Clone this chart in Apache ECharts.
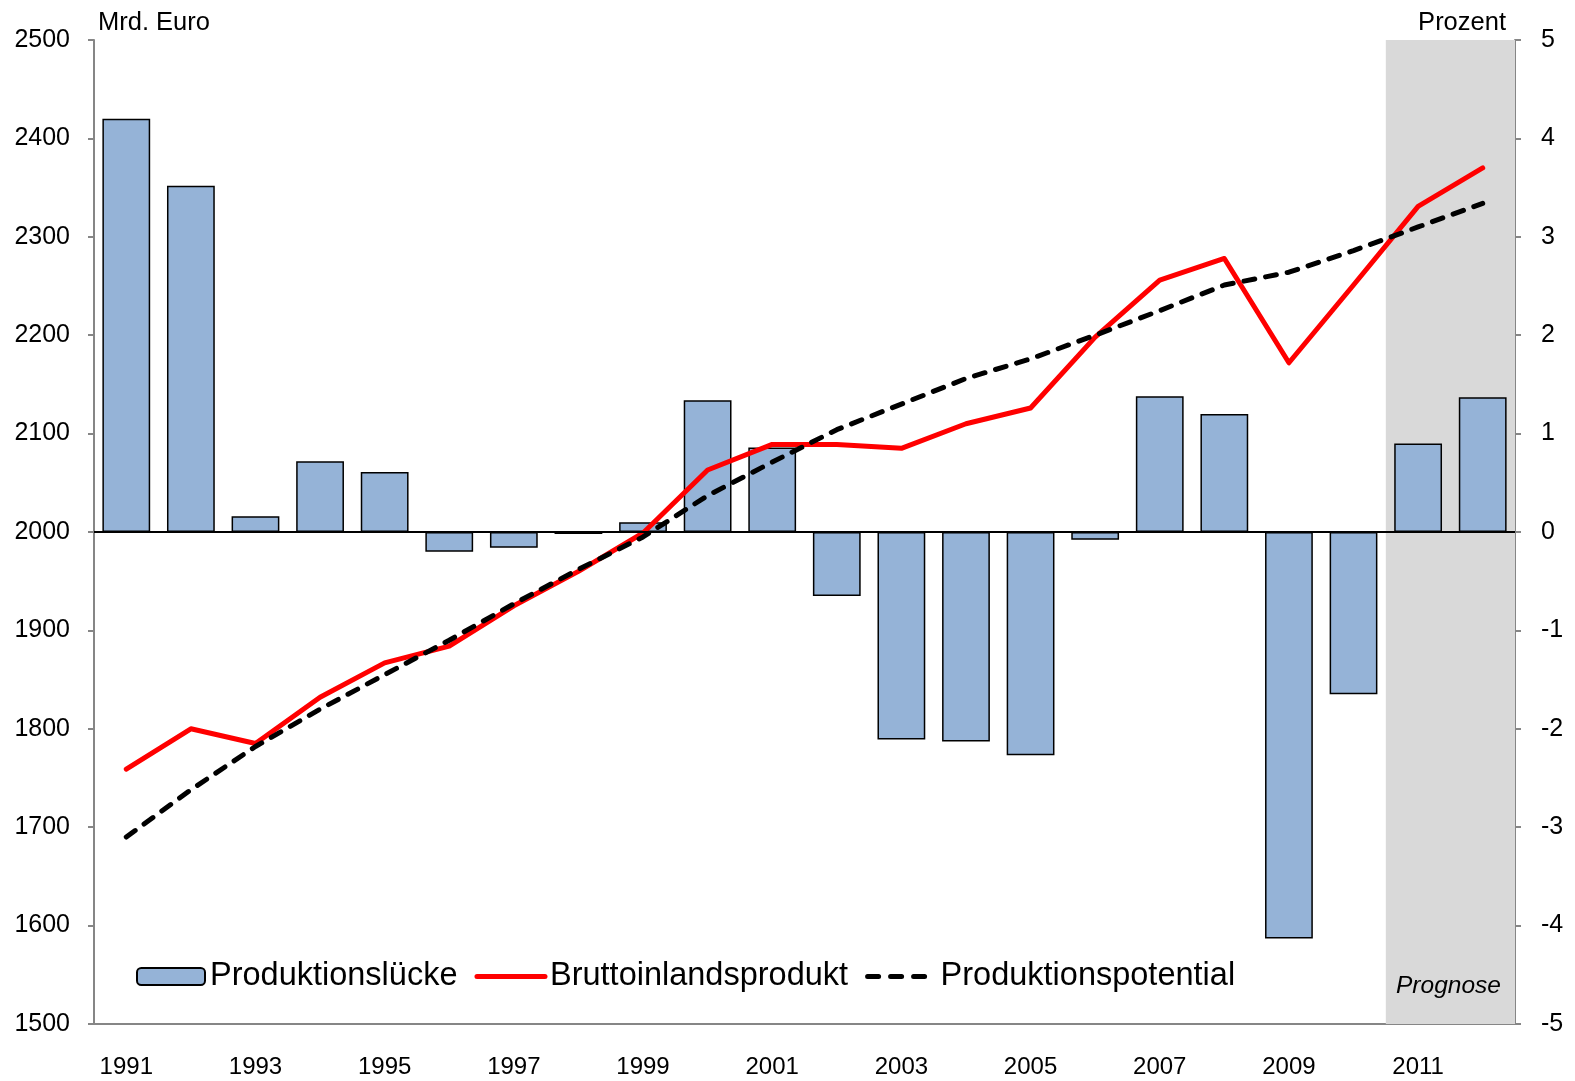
<!DOCTYPE html>
<html>
<head>
<meta charset="utf-8">
<script src="https://cdn.jsdelivr.net/npm/echarts@6/dist/echarts.min.js"></script>
<style>
html, body { margin: 0; padding: 0; background: #fff; }
#main { width: 1575px; height: 1081px; }
</style>
</head>
<body>
<div id="main"></div>
<script>
// Jahre
var years = ['1991','1992','1993','1994','1995','1996','1997','1998','1999','2000','2001',
	'2002','2003','2004','2005','2006','2007','2008','2009','2010','2011','2012'];
// Produktionslücke (Prozent, rechte Achse)
var luecke = [4.20, 3.52, 0.16, 0.72, 0.61, -0.20, -0.16, -0.02, 0.10, 1.34, 0.86,
	-0.65, -2.11, -2.13, -2.27, -0.08, 1.38, 1.20, -4.13, -1.65, 0.90, 1.37];
// Bruttoinlandsprodukt (Mrd. Euro)
var bip = [1759, 1800, 1785, 1832, 1867, 1884, 1925, 1960, 1999, 2063, 2089,
	2089, 2085, 2110, 2126, 2198, 2256, 2278, 2172, 2251, 2331, 2370];
// Produktionspotential (Mrd. Euro)
var potential = [1690, 1738, 1782, 1820, 1855, 1890, 1927, 1962, 1995, 2037, 2071,
	2104, 2130, 2156, 2176, 2200, 2225, 2251, 2264, 2286, 2310, 2334];
// Zweijahres-Abschnitte fuer den Prognose-Hintergrund (2011/12 = Prognose)
var perioden = ['1991/92','1993/94','1995/96','1997/98','1999/00','2001/02',
	'2003/04','2005/06','2007/08','2009/10','2011/12'];
var prognose = ['2011/12'];
var prognoseOben = perioden.map(function (p) { return prognose.indexOf(p) >= 0 ? 5 : null; });
var prognoseUnten = perioden.map(function (p) { return prognose.indexOf(p) >= 0 ? -5 : null; });

var font = 'Liberation Sans, Arial, sans-serif';
var axisGray = '#868686';
var grau = '#d9d9d9';

var myChart = echarts.init(document.getElementById('main'));
var option = {
	animation: false,
	textStyle: { fontFamily: font },
	grid: { left: 94, right: 60, top: 40, bottom: 57 },
	legend: {
		data: [
			{ name: 'Produktionslücke' },
			{
				name: 'Bruttoinlandsprodukt',
				itemStyle: { color: 'rgba(0,0,0,0)', opacity: 0, borderWidth: 0 },
				lineStyle: { width: 5, color: '#ff0000', cap: 'round' }
			},
			{
				name: 'Produktionspotential',
				itemStyle: { color: 'rgba(0,0,0,0)', opacity: 0, borderWidth: 0 },
				lineStyle: { width: 5, color: '#000', type: [11, 12], cap: 'round' }
			}
		],
		left: 131,
		top: 955,
		itemWidth: 68,
		itemHeight: 17,
		itemGap: 17,
		textStyle: { fontSize: 32.5, color: '#000', fontFamily: font }
	},
	graphic: [
		{ type: 'text', left: 98, top: 10, z: 100, style: { text: 'Mrd. Euro', font: '25.5px ' + font, fill: '#000' } },
		{ type: 'text', right: 69, top: 10, z: 100, style: { text: 'Prozent', font: '25.5px ' + font, fill: '#000' } },
		{ type: 'text', left: 1396, top: 974, z: 100, style: { text: 'Prognose', font: 'italic 24.5px ' + font, fill: '#000' } }
	],
	xAxis: [
		{
			type: 'category',
			data: years,
			position: 'bottom',
			axisLine: { onZero: false, lineStyle: { color: axisGray, width: 2 } },
			axisTick: { interval: 3, length: 6, lineStyle: { color: axisGray, width: 2 } },
			axisLabel: { interval: 1, fontSize: 24, color: '#000', margin: 31 },
			splitLine: { show: false }
		},
		{
			// Hilfsachse fuer den Prognose-Hintergrund
			type: 'category',
			data: perioden,
			show: false
		}
	],
	yAxis: [
		{
			type: 'value',
			min: 1500, max: 2500, interval: 100,
			axisLine: { show: true, lineStyle: { color: axisGray, width: 2 } },
			axisTick: { show: true, length: 6, lineStyle: { color: axisGray, width: 2 } },
			axisLabel: { fontSize: 25, color: '#000', margin: 24, formatter: function (v) { return String(v); } },
			splitLine: { show: false }
		},
		{
			type: 'value',
			min: -5, max: 5, interval: 1,
			position: 'right',
			axisLine: { show: true, lineStyle: { color: axisGray, width: 2 } },
			axisTick: { show: true, length: 6, lineStyle: { color: axisGray, width: 2 } },
			axisLabel: { fontSize: 25, color: '#000', margin: 26, align: 'left' },
			splitLine: { show: false }
		}
	],
	series: [
		{
			name: 'prognose',
			type: 'bar',
			xAxisIndex: 1,
			yAxisIndex: 1,
			stack: 'prog',
			barCategoryGap: '0%',
			silent: true,
			z: 0,
			itemStyle: { color: grau },
			data: prognoseOben
		},
		{
			name: 'prognose2',
			type: 'bar',
			xAxisIndex: 1,
			yAxisIndex: 1,
			stack: 'prog',
			barCategoryGap: '0%',
			silent: true,
			z: 0,
			itemStyle: { color: grau },
			data: prognoseUnten
		},
		{
			name: 'Produktionslücke',
			type: 'bar',
			xAxisIndex: 0,
			yAxisIndex: 1,
			barCategoryGap: '26%',
			z: 2,
			itemStyle: { color: '#95b3d7', borderColor: '#000', borderWidth: 1.5 },
			data: luecke,
			markLine: {
				silent: true,
				symbol: 'none',
				label: { show: false },
				lineStyle: { color: '#000', width: 2, type: 'solid' },
				data: [{ yAxis: 0 }]
			}
		},
		{
			name: 'Bruttoinlandsprodukt',
			type: 'line',
			yAxisIndex: 0,
			symbol: 'none',
			z: 4,
			lineStyle: { color: '#ff0000', width: 5, cap: 'round', join: 'round' },
			itemStyle: { color: '#ff0000' },
			data: bip
		},
		{
			name: 'Produktionspotential',
			type: 'line',
			yAxisIndex: 0,
			symbol: 'none',
			z: 5,
			lineStyle: { color: '#000', width: 5, type: [11, 11], cap: 'round' },
			itemStyle: { color: '#000' },
			data: potential
		}
	]
};
myChart.setOption(option);
</script>
</body>
</html>
